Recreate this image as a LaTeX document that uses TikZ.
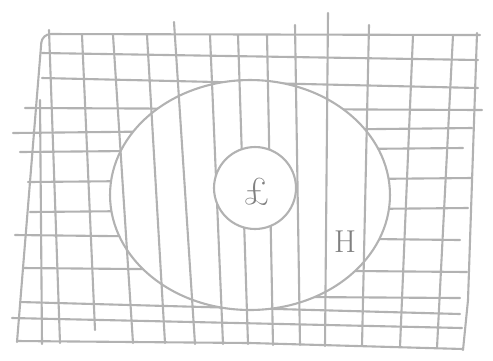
\documentclass[tikz,border=0pt]{standalone}
\usetikzlibrary{shapes.geometric}
\definecolor{pencil}{gray}{0.70}
\definecolor{lead}{gray}{0.50}
\tikzset{
  gridline/.style={draw=pencil,line width=1.2pt,line cap=round},
  handlabel/.style={text=lead,font=\fontsize{18}{20}\selectfont,inner sep=1pt}
}
\begin{document}
\begin{tikzpicture}[x=0.02cm,y=-0.02cm]
  \useasboundingbox (0,0) rectangle (493,360);
  % horizontal lines stop at the big ellipse
  \begin{scope}[even odd rule]
    \clip (0,0) rectangle (493,360) (250,195) ellipse [x radius=140,y radius=115];
    \foreach \xa/\ya/\xb/\yb in {42/53/478/60,42/78/478/88,25/108/482/110,13/133/472/128,20/152/463/148,28/182/472/178,30/212/468/208,15/235/460/240,23/268/467/272,20/302/460/314,300/297/460/298,12/318/462/328} {
      \draw[gridline] (\xa,\ya) -- (\xb,\yb);
    }
  \end{scope}
  % vertical lines stop at the small circle
  \begin{scope}[even odd rule]
    \clip (0,0) rectangle (493,360) (255,188) circle [radius=41];
    \foreach \xa/\ya/\xb/\yb in {49/30/60/343,40/100/42/344,82/35/95/330,113/35/133/343,147/35/165/343,174/22/195/344,210/35/223/344,238/35/248/344,267/35/273/345,295/25/300/345,328/13/325/346,369/25/362/346,413/35/400/347,453/35/437/348} {
      \draw[gridline] (\xa,\ya) -- (\xb,\yb);
    }
  \end{scope}
  % frame
  \draw[gridline,rounded corners=5pt] (17,342) -- (42,34) -- (480,35);
  \draw[gridline] (477,33) -- (468,300) -- (463,350);
  \draw[gridline] (17,341) -- (250,343) -- (463,349);
  % regions
  \node[draw=pencil,line width=1.2pt,ellipse,minimum width=5.6cm,minimum height=4.6cm,inner sep=0pt] (ring) at (250,195) {};
  \node[draw=pencil,line width=1.2pt,circle,minimum size=1.64cm,inner sep=0pt] (core) at (255,188) {};
  \node[handlabel,font=\fontsize{22}{24}\selectfont] (coremark) at (257,192) {£};
  \node[handlabel] (ringmark) at (345,242) {H};
\end{tikzpicture}
\end{document}
